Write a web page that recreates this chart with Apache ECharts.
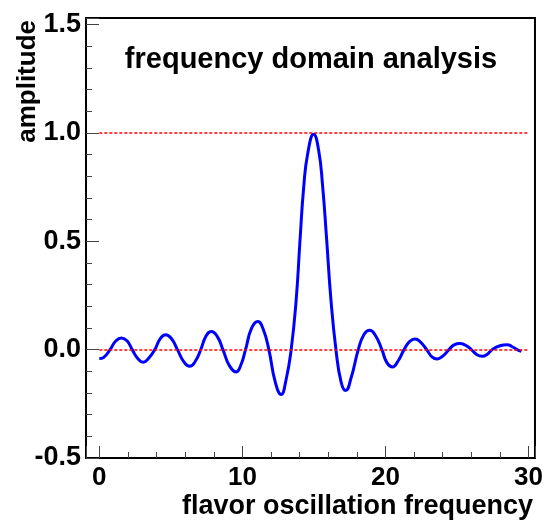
<!DOCTYPE html>
<html><head><meta charset="utf-8">
<script src="https://cdn.jsdelivr.net/npm/echarts@6/dist/echarts.min.js"></script>
<style>html,body{margin:0;padding:0;background:#fff}#c{width:546px;height:521px}</style>
</head><body><div id="c"></div>
<script>
// ---- data ----
const freq = [0.0, 0.3, 0.75, 1.15, 1.56, 1.95, 2.3, 2.7, 3.07, 3.45, 3.88, 4.25, 4.63, 5.05, 5.46, 5.9, 6.32, 6.7, 7.09, 7.45, 7.83, 8.25, 8.64, 9.1, 9.57, 9.9, 10.22, 10.65, 11.08, 11.45, 11.85, 12.3, 12.71, 13.05, 13.41, 13.76, 14.03, 14.29, 14.57, 14.98, 15.33, 15.61, 15.89, 16.19, 16.54, 16.9, 17.22, 17.6, 18.1, 18.5, 18.9, 19.3, 19.75, 20.1, 20.49, 20.9, 21.3, 21.7, 22.07, 22.45, 22.88, 23.25, 23.62, 24.0, 24.44, 24.8, 25.2, 25.6, 26.0, 26.4, 26.77, 27.1, 27.46, 28.0, 28.5, 28.9, 29.2, 29.5];
const amplitude = [-0.041, -0.036, 0.0, 0.040, 0.054, 0.040, 0.0, -0.042, -0.058, -0.040, 0.0, 0.050, 0.069, 0.050, 0.0, -0.055, -0.077, -0.055, 0.0, 0.062, 0.084, 0.060, 0.0, -0.075, -0.103, -0.070, 0.0, 0.100, 0.130, 0.095, 0.0, -0.150, -0.207, -0.140, 0.0, 0.230, 0.507, 0.753, 0.906, 0.994, 0.920, 0.753, 0.507, 0.230, 0.0, -0.150, -0.189, -0.130, 0.0, 0.070, 0.089, 0.065, 0.0, -0.060, -0.080, -0.050, 0.0, 0.038, 0.049, 0.035, 0.0, -0.033, -0.043, -0.030, 0.0, 0.022, 0.028, 0.020, 0.0, -0.024, -0.031, -0.022, 0.0, 0.018, 0.023, 0.012, 0.0, -0.008];
const refLevels = [0.0, 1.0];
const refSpan = [0, 30];
const xRange = [-0.93, 30.45];
const yRange = [-0.5, 1.53];
const titleText = 'frequency domain analysis';
const xName = 'flavor oscillation frequency';
const yName = 'amplitude';

const FONT = '"Liberation Sans", Arial, Helvetica, sans-serif';
const chart = echarts.init(document.getElementById('c'), null, {renderer: 'canvas'});
const tickStyle = {color: '#444', width: 1};
chart.setOption({
  animation: false,
  backgroundColor: '#fff',
  grid: {left: 86, right: 10, top: 18, bottom: 63, show: true, borderColor: '#000', borderWidth: 2, backgroundColor: 'transparent'},
  xAxis: {
    type: 'value', min: xRange[0], max: xRange[1], splitNumber: 3,
    axisLine: {show: true, onZero: false, lineStyle: {color: '#000', width: 2}},
    axisTick: {show: true, inside: true, length: 12, lineStyle: tickStyle},
    minorTick: {show: true, splitNumber: 5, length: 6, lineStyle: tickStyle},
    splitLine: {show: false}, minorSplitLine: {show: false},
    axisLabel: {showMinLabel: false, showMaxLabel: false, margin: 7, fontFamily: FONT, fontWeight: 'bold', fontSize: 26, color: '#000',
      formatter: v => String(Math.round(v))}
  },
  yAxis: {
    type: 'value', min: yRange[0], max: yRange[1], splitNumber: 4,
    axisLine: {show: true, onZero: false, lineStyle: {color: '#000', width: 2}},
    axisTick: {show: true, inside: true, length: 13, lineStyle: tickStyle},
    minorTick: {show: true, splitNumber: 5, length: 6, lineStyle: tickStyle},
    splitLine: {show: false}, minorSplitLine: {show: false},
    axisLabel: {showMinLabel: true, showMaxLabel: false, margin: 5, fontFamily: FONT, fontWeight: 'bold', fontSize: 27, color: '#000',
      formatter: v => v.toFixed(1)}
  },
  graphic: [
    {type: 'text', x: 311, y: 60, style: {text: titleText, font: 'bold 29px ' + FONT, fill: '#000', textAlign: 'center', textVerticalAlign: 'middle'}},
    {type: 'text', x: 533, y: 507, style: {text: xName, font: 'bold 27px ' + FONT, fill: '#000', textAlign: 'right', textVerticalAlign: 'middle'}},
    {type: 'text', x: 28, y: 20, rotation: Math.PI / 2, style: {text: yName, font: 'bold 26px ' + FONT, fill: '#000', textAlign: 'right', textVerticalAlign: 'middle'}}
  ],
  series: [{
    type: 'line',
    data: freq.map((f, i) => [f, amplitude[i]]),
    smooth: 0.5,
    showSymbol: false,
    lineStyle: {color: '#0000ff', width: 3},
    markLine: {
      silent: true, symbol: 'none', label: {show: false},
      lineStyle: {color: '#ff0000', type: [3, 2], width: 1.5},
      data: refLevels.map(v => [{coord: [refSpan[0], v]}, {coord: [refSpan[1], v]}])
    }
  }]
});
</script></body></html>
